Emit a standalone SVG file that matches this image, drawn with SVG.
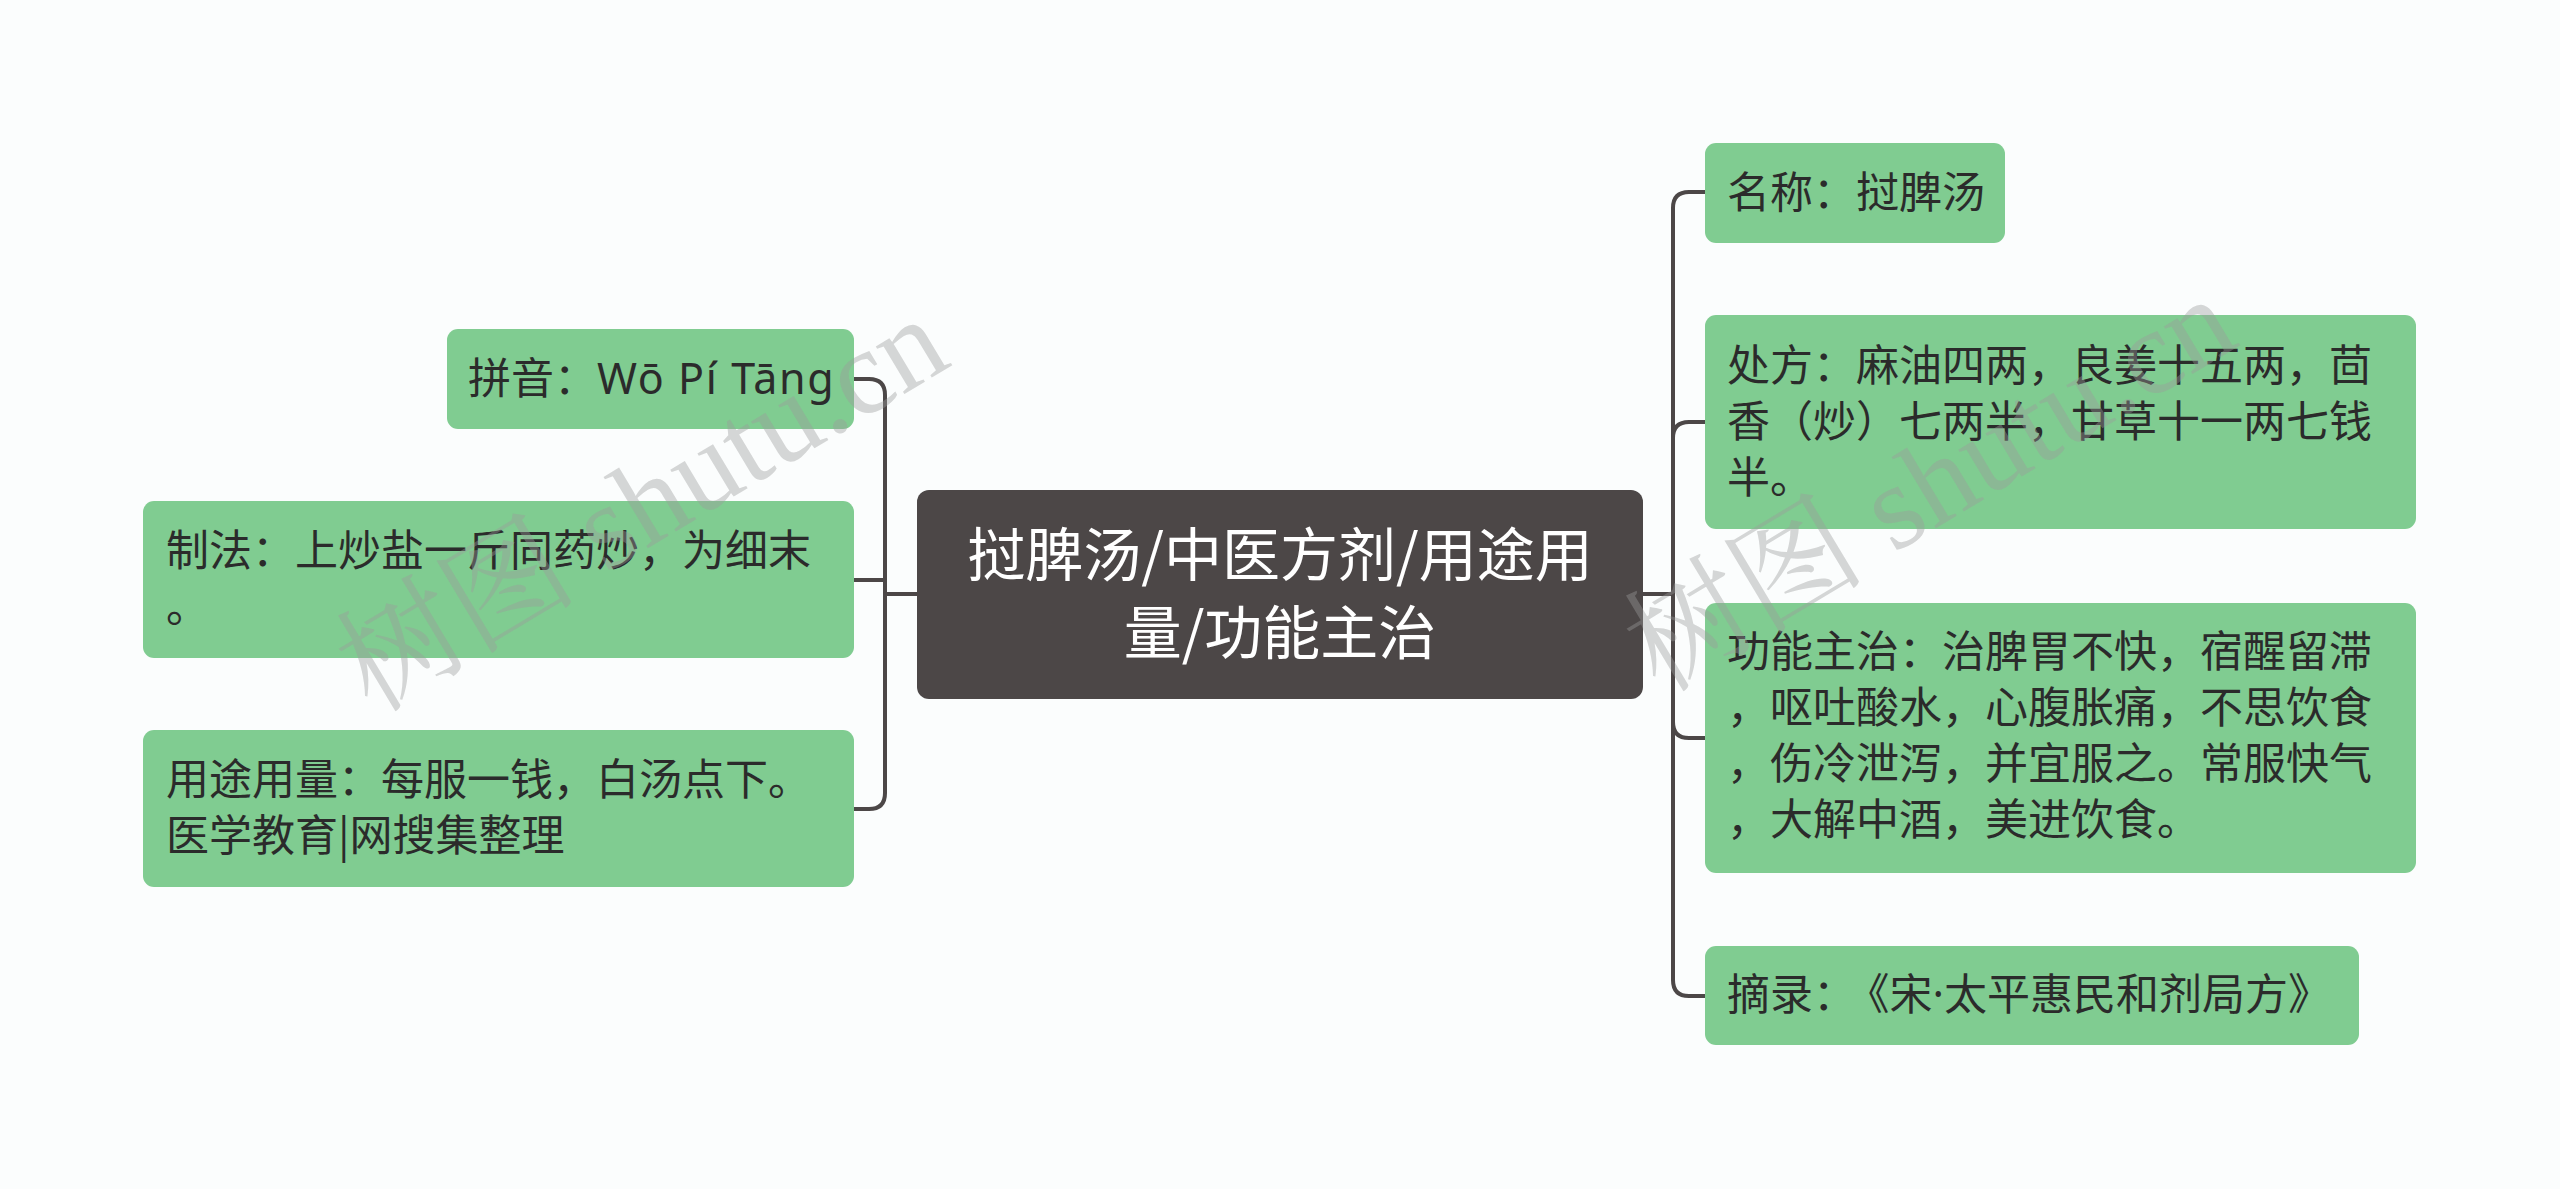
<svg xmlns="http://www.w3.org/2000/svg" width="2560" height="1189" viewBox="0 0 2560 1189">
<style>
.bg{fill:#fbfdfd}
.leaf{fill:#80cc91}
.root{fill:#4c4747}
.t{font-family:"Noto Sans CJK SC","Noto Sans",sans-serif;font-size:43px;fill:#2b2b2b}
.lat{font-family:"Noto Sans","Noto Sans CJK SC",sans-serif}
.rt{font-family:"Noto Sans CJK SC","Noto Sans",sans-serif;font-size:58px;fill:#ffffff;text-anchor:middle}
.c{fill:none;stroke:#4c4747;stroke-width:4;stroke-linecap:round;stroke-linejoin:round}
.wm{font-family:"Liberation Serif","Noto Serif CJK SC","Noto Sans CJK SC",serif;font-size:121px;fill:#9a9a9a;fill-opacity:0.4}
</style>
<rect class="bg" x="0" y="0" width="2560" height="1189"/>
<g id="connectors">
<path class="c" d="M917 594 H885"/>
<path class="c" d="M885 594 V395 Q885 379 869 379 H854"/>
<path class="c" d="M885 594 V580 H854"/>
<path class="c" d="M885 594 V793 Q885 809 869 809 H854"/>
<path class="c" d="M1643 594 H1673"/>
<path class="c" d="M1673 594 V208 Q1673 192 1689 192 H1705"/>
<path class="c" d="M1673 594 V438 Q1673 422 1689 422 H1705"/>
<path class="c" d="M1673 594 V722 Q1673 738 1689 738 H1705"/>
<path class="c" d="M1673 594 V980 Q1673 996 1689 996 H1705"/>
</g>
<g id="root">
<rect class="root" x="917" y="490" width="726" height="209" rx="12"/>
<text class="rt" x="1280" y="576">挝脾汤/中医方剂/用途用</text>
<text class="rt" x="1280" y="654">量/功能主治</text>
</g>
<g id="pinyin">
<rect class="leaf" x="447" y="329" width="407" height="100" rx="11"/>
<text class="t" x="468" y="394">拼音：<tspan class="lat" letter-spacing="1.6">Wō Pí Tāng</tspan></text>
</g>
<g id="zhifa">
<rect class="leaf" x="143" y="501" width="711" height="157" rx="11"/>
<text class="t" x="166" y="566">制法：上炒盐一斤同药炒，为细末</text>
<text class="t" x="166" y="622">。</text>
</g>
<g id="yongtu">
<rect class="leaf" x="143" y="730" width="711" height="157" rx="11"/>
<text class="t" x="166" y="795">用途用量：每服一钱，白汤点下。</text>
<text class="t" x="166" y="851">医学教育|网搜集整理</text>
</g>
<g id="mingcheng">
<rect class="leaf" x="1705" y="143" width="300" height="100" rx="11"/>
<text class="t" x="1727" y="208">名称：挝脾汤</text>
</g>
<g id="chufang">
<rect class="leaf" x="1705" y="315" width="711" height="214" rx="11"/>
<text class="t" x="1727" y="381">处方：麻油四两，良姜十五两，茴</text>
<text class="t" x="1727" y="437">香（炒）七两半，甘草十一两七钱</text>
<text class="t" x="1727" y="493">半。</text>
</g>
<g id="gongneng">
<rect class="leaf" x="1705" y="603" width="711" height="270" rx="11"/>
<text class="t" x="1727" y="667">功能主治：治脾胃不快，宿醒留滞</text>
<text class="t" x="1727" y="723">，呕吐酸水，心腹胀痛，不思饮食</text>
<text class="t" x="1727" y="779">，伤冷泄泻，并宜服之。常服快气</text>
<text class="t" x="1727" y="835">，大解中酒，美进饮食。</text>
</g>
<g id="zhailu">
<rect class="leaf" x="1705" y="946" width="654" height="99" rx="11"/>
<text class="t" x="1727" y="1010">摘录：<tspan dx="12">《宋</tspan><tspan class="lat">·</tspan>太平惠民和剂局方》</text>
</g>
<g id="watermarks">
<text class="wm" transform="translate(372,714) rotate(-31)">树图 shutu.cn</text>
<text class="wm" transform="translate(1660,694) rotate(-31)">树图 shutu.cn</text>
</g>
</svg>
